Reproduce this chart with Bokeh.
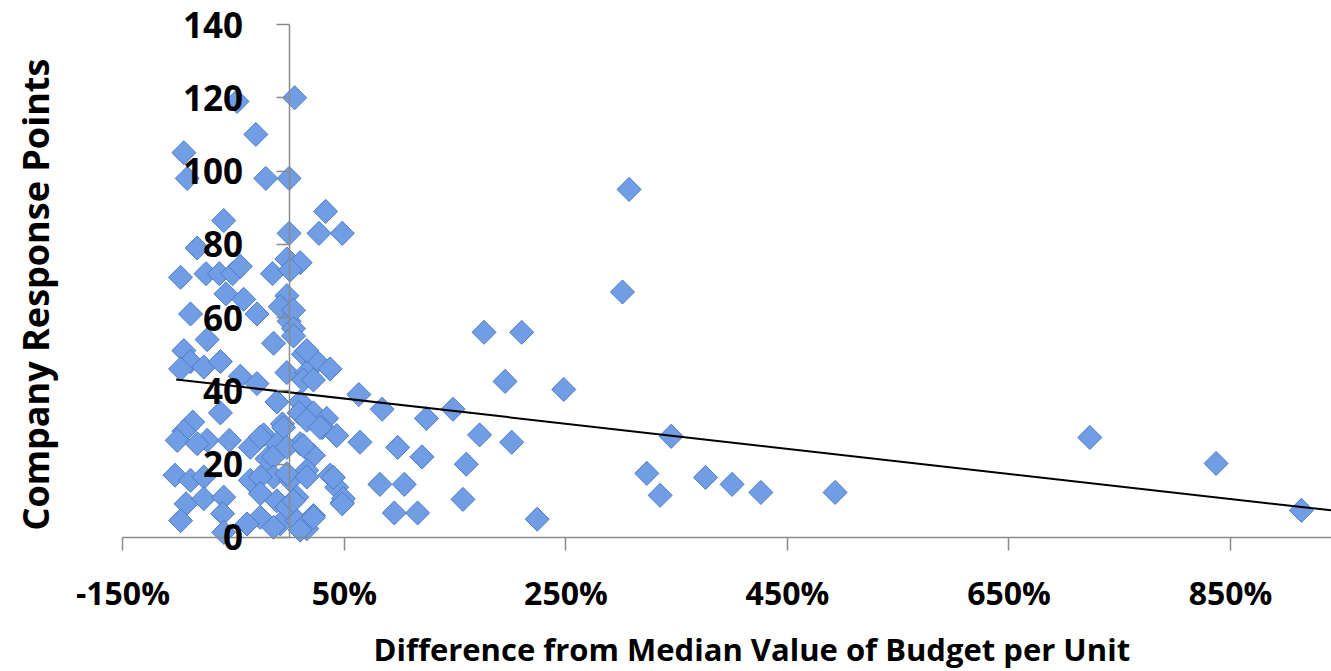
import math
from bokeh.plotting import figure
from bokeh.models import FixedTicker, NumeralTickFormatter, LinearAxis, Title, Range1d, ColumnDataSource
from bokeh.embed import file_html
from bokeh.resources import INLINE

# Difference from median value of budget per unit (percent)
x_pct = [
    5, -47, -30, -95, -92, -21, 0, 33, -59, 0, 27, 48,
    -83, -98, -75, -63, -51, -44, -15, -2, 10, 1,
    -57, -41, -2, -89, -29, -8, 0, 4, 4,
    -74, -14, -95, -89, -77, -62, -98, 13, 25, 37, -2, 16, -44, -29, 4, 16, 13, 22,
    63, 84, -11, 10, 22, 34, -62, -87, -6, 9, 16, 30, -5, -95, 124, 148, 28,
    172, 201, 64, 98, 120, 160, 82, 104, 48, 157, 95, 116, 224,
    176, 210, 195, 248, 301, 307, 345, 323, 335, 376, 400, 426, 493, 723, 837, 914,
    -101, -74, -54, -35, -23, -11, 43, 10, 22, -20, -83, -26, -14, -2, 13,
    -103, -89, -77, -35, -14, 1, 16, 37, 43, 49, -26, -2, 16, 40,
    -93, -77, -59, -60, -98, -26, -11, 7, -26, -8, 7, 22, 16, -59, -2, -38, -14, 10, 4, 22, 48,
]
# Company response points
y_pts = [
    120, 119, 110, 105, 98, 98, 98, 89, 86.5, 83, 83, 83,
    79, 71, 72, 72, 72, 74, 72, 76, 75, 73,
    66.5, 65, 66, 61, 61, 63, 59, 62, 57,
    54, 53, 51, 48, 46.5, 48, 46, 50, 48, 46, 45, 45, 44, 42, 55, 51, 43, 43,
    39, 35, 37, 37, 34, 32.5, 34, 31.5, 31, 34, 32, 30, 30, 29, 32.5, 35, 30,
    28, 26, 26, 24.6, 22, 20, 14.5, 14.5, 9.5, 10.4, 6.7, 6.7, 5,
    56, 56, 42.6, 40.4, 67, 95, 27.6, 17.5, 11.5, 16.4, 14.5, 12.3, 12.3, 27.3, 20.2, 7.4,
    26.5, 26.5, 26.5, 24.6, 28, 25.6, 27.8, 25.6, 22.4, 21.5, 25.6, 27.4, 22, 24.6, 25,
    17, 15.6, 16.5, 15.6, 16.5, 15.6, 18.3, 17, 13.7, 10.6, 16.5, 17.4, 16.5, 16.4,
    9.2, 10.6, 11, 6.5, 4.6, 12, 10, 11, 5.5, 3.7, 4.6, 6, 2.4, 1.4, 8.3, 3.7, 2.8, 2, 10, 5.5, 9.2,
]
# Linear trend line end points (percent, points)
trend_x_pct = [-102, 941]
trend_y = [43.1, 7.4]

x_ticks_pct = [-150, 50, 250, 450, 650, 850]
y_ticks = [0, 20, 40, 60, 80, 100, 120, 140]

x_title = "Difference from Median Value of Budget per Unit"
y_title = "Company Response Points"

FONT = "Open Sans"
AXIS_GRAY = "#8a8a8a"

# axis extents (fractions / points); the view window is a bit wider so that labels fit
x_axis_start, x_axis_end = -1.5, 9.41
y_axis_start, y_axis_end = 0, 140

src = ColumnDataSource(dict(x=[v / 100 for v in x_pct], y=y_pts))

p = figure(width=1331, height=671, output_backend="svg", toolbar_location=None,
           title=None,
           x_range=Range1d(-2.073, 9.412), y_range=Range1d(-24.02, 146.55),
           x_axis_location=None, y_axis_location=None,
           min_border_left=59, min_border_right=0, min_border_top=0, min_border_bottom=46)
p.grid.visible = False
p.outline_line_color = None
p.background_fill_color = "white"
p.border_fill_color = "white"

xaxis = LinearAxis(fixed_location=0,
                   ticker=FixedTicker(ticks=[t / 100 for t in x_ticks_pct]),
                   formatter=NumeralTickFormatter(format="0%"),
                   bounds=(x_axis_start, x_axis_end))
xaxis.axis_line_color = AXIS_GRAY
xaxis.axis_line_width = 1.5
xaxis.major_tick_line_color = AXIS_GRAY
xaxis.major_tick_line_width = 1.5
xaxis.major_tick_out = 13
xaxis.major_tick_in = 0
xaxis.minor_tick_line_color = None
xaxis.major_label_standoff = 21
xaxis.major_label_text_font = FONT
xaxis.major_label_text_font_style = "bold"
xaxis.major_label_text_font_size = "32px"
xaxis.major_label_text_color = "black"
p.add_layout(xaxis, "below")

yaxis = LinearAxis(fixed_location=0, ticker=FixedTicker(ticks=y_ticks),
                   bounds=(y_axis_start, y_axis_end))
yaxis.axis_line_color = AXIS_GRAY
yaxis.axis_line_width = 1.5
yaxis.major_tick_line_color = AXIS_GRAY
yaxis.major_tick_line_width = 1.5
yaxis.major_tick_out = 13
yaxis.major_tick_in = 0
yaxis.minor_tick_line_color = None
yaxis.major_label_standoff = 33
yaxis.major_label_text_font = FONT
yaxis.major_label_text_font_style = "bold"
yaxis.major_label_text_font_size = "35px"
yaxis.major_label_text_color = "black"
p.add_layout(yaxis, "left")

p.scatter("x", "y", source=src, marker="square", size=17, angle=math.pi / 4,
          fill_color="#709de4", line_color="#4c7cc6", line_width=1)

p.line([v / 100 for v in trend_x_pct], trend_y, line_color="black", line_width=2)

p.add_layout(Title(text=y_title, align="left", offset=95, standoff=0,
                   text_font=FONT, text_font_style="bold", text_font_size="36px",
                   text_color="black"), "left")
p.add_layout(Title(text=x_title, align="left", offset=314, standoff=0,
                   text_font=FONT, text_font_style="bold", text_font_size="31px",
                   text_color="black"), "below")

open("out.html", "w").write(file_html(p, INLINE))
